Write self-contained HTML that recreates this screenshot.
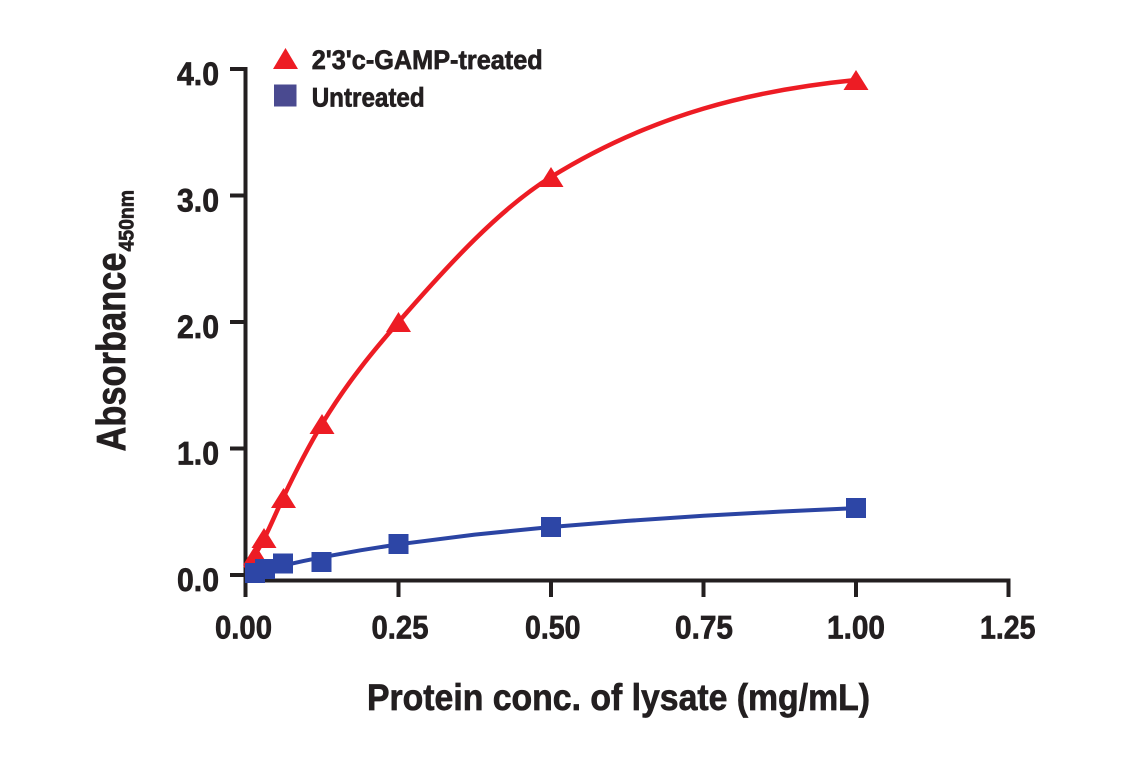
<!DOCTYPE html>
<html>
<head>
<meta charset="utf-8">
<style>
  html, body { margin: 0; padding: 0; background: #ffffff; }
  svg { display: block; }
  text { font-family: "Liberation Sans", "DejaVu Sans", sans-serif; font-weight: bold; fill: #231f20; stroke: #231f20; stroke-width: 0.7; }
</style>
</head>
<body>
<svg width="1141" height="768" viewBox="0 0 1141 768" xmlns="http://www.w3.org/2000/svg">
  <rect x="0" y="0" width="1141" height="768" fill="#ffffff"/>

  <!-- Axes -->
  <g stroke="#231f20" stroke-width="4" fill="none" stroke-linecap="butt">
    <line x1="245.5" y1="67" x2="245.5" y2="597"/>
    <line x1="230" y1="69" x2="247" y2="69"/>
    <line x1="230" y1="195.5" x2="247" y2="195.5"/>
    <line x1="230" y1="322" x2="247" y2="322"/>
    <line x1="230" y1="448.5" x2="247" y2="448.5"/>
    <line x1="230" y1="575" x2="247" y2="575"/>
    <line x1="243.5" y1="580.5" x2="1010.5" y2="580.5"/>
    <line x1="398.5" y1="579" x2="398.5" y2="597"/>
    <line x1="551" y1="579" x2="551" y2="597"/>
    <line x1="703.5" y1="579" x2="703.5" y2="597"/>
    <line x1="856" y1="579" x2="856" y2="597"/>
    <line x1="1008.5" y1="579" x2="1008.5" y2="597"/>
  </g>

  <!-- Y tick labels -->
  <g font-size="32">
    <text x="177" y="85" textLength="42" lengthAdjust="spacingAndGlyphs">4.0</text>
    <text x="177" y="211.5" textLength="42" lengthAdjust="spacingAndGlyphs">3.0</text>
    <text x="177" y="338" textLength="42" lengthAdjust="spacingAndGlyphs">2.0</text>
    <text x="177" y="464.5" textLength="42" lengthAdjust="spacingAndGlyphs">1.0</text>
    <text x="177" y="591" textLength="42" lengthAdjust="spacingAndGlyphs">0.0</text>
  </g>

  <!-- X tick labels -->
  <g font-size="32">
    <text x="215" y="638.5" textLength="57" lengthAdjust="spacingAndGlyphs">0.00</text>
    <text x="371.5" y="638.5" textLength="57" lengthAdjust="spacingAndGlyphs">0.25</text>
    <text x="525" y="638.5" textLength="55.5" lengthAdjust="spacingAndGlyphs">0.50</text>
    <text x="675" y="638.5" textLength="58" lengthAdjust="spacingAndGlyphs">0.75</text>
    <text x="827" y="638.5" textLength="58" lengthAdjust="spacingAndGlyphs">1.00</text>
    <text x="980" y="638.5" textLength="55.5" lengthAdjust="spacingAndGlyphs">1.25</text>
  </g>

  <!-- Axis titles -->
  <text x="367" y="710" font-size="37" textLength="503" lengthAdjust="spacingAndGlyphs">Protein conc. of lysate (mg/mL)</text>
  <text transform="translate(125,451.5) rotate(-90)" x="0" y="0" font-size="41" textLength="199" lengthAdjust="spacingAndGlyphs">Absorbance</text>
  <text transform="translate(133.3,251.5) rotate(-90)" x="0" y="0" font-size="21" textLength="61.5" lengthAdjust="spacingAndGlyphs">450nm</text>

  <!-- Legend -->
  <polygon points="285.5,48 273,69 298,69" fill="#ed1c24"/>
  <text x="311.7" y="69" font-size="27" textLength="231" lengthAdjust="spacingAndGlyphs">2'3'c-GAMP-treated</text>
  <rect x="274" y="84.5" width="22.5" height="22" fill="#4a4a90"/>
  <text x="311.7" y="106.5" font-size="27" textLength="113" lengthAdjust="spacingAndGlyphs">Untreated</text>

  <!-- Red series curve -->
  <path d="M245,568 C251.5,560.37 258.33,550.33 264.5,538 C270.67,525.67 276.83,510.95 283,498 C296,470.7 309,445.45 322,424 C347.5,381.9 373,351.3 398.5,322 C449.33,263.5 500.17,208.5 551,177 C652.67,114 754.33,90 856,80"
        fill="none" stroke="#ed1c24" stroke-width="4.5"/>
  <g fill="#ed1c24">
    <polygon points="856,70 843.5,90 868.5,90"/>
    <polygon points="551,167 538.5,187 563.5,187"/>
    <polygon points="398.5,312 386,332 411,332"/>
    <polygon points="322,414 309.5,434 334.5,434"/>
    <polygon points="283.5,488 271,508 296,508"/>
    <polygon points="264,528 251.5,548 276.5,548"/>
    <polygon points="255.5,545 243,565 268,565"/>
  </g>

  <!-- Blue series curve -->
  <polyline points="246,575 255.5,572.4 265.1,569.9 284.1,565.3 303.2,561.1 322.3,557.2 360.4,550.3 398.5,544.3 474.75,534.6 551,527 627.25,520.9 703.5,515.8 779.75,511.6 856,508.1"
        fill="none" stroke="#2b44a3" stroke-width="4" stroke-linejoin="round"/>
  <g fill="#2d46a6">
    <rect x="846" y="498" width="20" height="20"/>
    <rect x="541" y="517" width="20" height="20"/>
    <rect x="388.5" y="534" width="20" height="20"/>
    <rect x="311.5" y="552" width="20" height="20"/>
    <rect x="273" y="553.5" width="20" height="20"/>
    <rect x="255" y="559" width="20" height="20"/>
    <rect x="245" y="563" width="20" height="20"/>
  </g>
</svg>
</body>
</html>
